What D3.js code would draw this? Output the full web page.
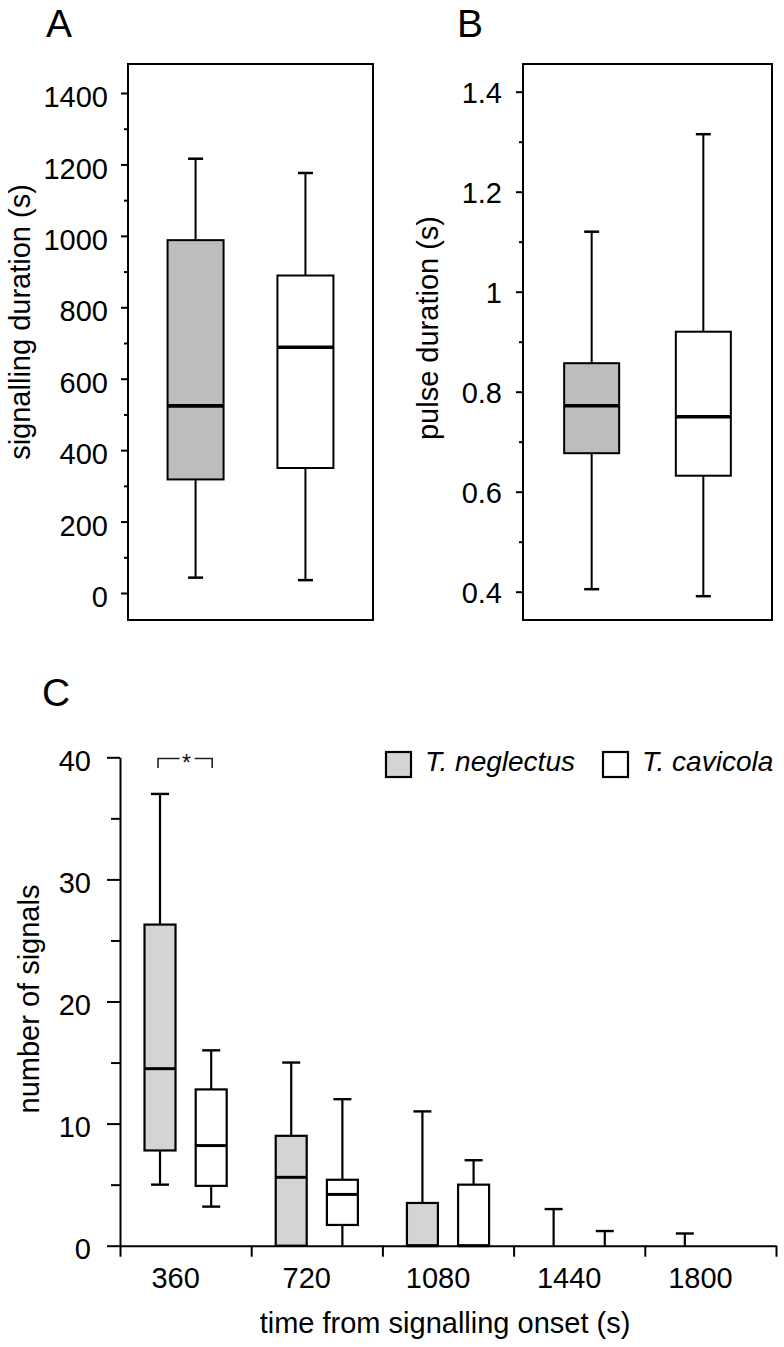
<!DOCTYPE html>
<html>
<head>
<meta charset="utf-8">
<script src="https://cdn.jsdelivr.net/npm/d3@7"></script>
<style>
  html, body { margin: 0; padding: 0; background: #fff; }
  svg { display: block; font-family: "Liberation Sans", Arial, Helvetica, sans-serif; }
</style>
</head>
<body>
<svg id="chart" width="784" height="1347"></svg>
<script>
// ---------------- DATA ----------------
const species = ["T. neglectus", "T. cavicola"];

// Panel A: signalling duration (s)
const durLower  = [43, 36];
const durQ1     = [318, 350];
const durMedian = [524, 688];
const durQ3     = [988, 889];
const durUpper  = [1216, 1176];
const durMajorTicks = [0, 200, 400, 600, 800, 1000, 1200, 1400];
const durMinorTicks = [100, 300, 500, 700, 900, 1100, 1300];

// Panel B: pulse duration (s)
const pulseLower  = [0.405, 0.391];
const pulseQ1     = [0.677, 0.632];
const pulseMedian = [0.772, 0.750];
const pulseQ3     = [0.857, 0.920];
const pulseUpper  = [1.120, 1.315];
const pulseMajorTicks = [0.4, 0.6, 0.8, 1.0, 1.2, 1.4];
const pulseMinorTicks = [0.5, 0.7, 0.9, 1.1, 1.3];
const pulseTickLabels = ["0.4", "0.6", "0.8", "1", "1.2", "1.4"];

// Panel C: number of signals per time bin
const timeBins = ["360", "720", "1080", "1440", "1800"];
const negLower  = [5.0, 0, 0, 0, 0];
const negQ1     = [7.8, 0, 0, 0, 0];
const negMedian = [14.5, 5.6, 0, 0, 0];
const negQ3     = [26.3, 9.0, 3.5, 0, 0];
const negUpper  = [37, 15, 11, 3, 1];
const cavLower  = [3.2, 0, 0, 0, 0];
const cavQ1     = [4.9, 1.7, 0, 0, 0];
const cavMedian = [8.2, 4.2, 0, 0, 0];
const cavQ3     = [12.8, 5.4, 5.0, 0, 0];
const cavUpper  = [16, 12, 7, 1.2, 0];
const countMajorTicks = [0, 10, 20, 30, 40];
const countMinorTicks = [5, 15, 25, 35];

// ---------------- HELPERS ----------------
const svg = d3.select("#chart");
const FS = 29;

function drawBox(g, cx, y, s, opt) {
  const hw = opt.boxW / 2, cw = opt.capW / 2;
  const sw = opt.sw;
  if (s.upper > s.q3) {
    g.append("line").attr("x1", cx).attr("x2", cx)
      .attr("y1", y(s.q3)).attr("y2", y(s.upper))
      .attr("stroke", "#000").attr("stroke-width", sw);
    g.append("line").attr("x1", cx - cw).attr("x2", cx + cw)
      .attr("y1", y(s.upper)).attr("y2", y(s.upper))
      .attr("stroke", "#000").attr("stroke-width", opt.capSw);
  }
  if (s.lower < s.q1) {
    g.append("line").attr("x1", cx).attr("x2", cx)
      .attr("y1", y(s.q1)).attr("y2", y(s.lower))
      .attr("stroke", "#000").attr("stroke-width", sw);
    if (s.lower > 0) {
      g.append("line").attr("x1", cx - cw).attr("x2", cx + cw)
        .attr("y1", y(s.lower)).attr("y2", y(s.lower))
        .attr("stroke", "#000").attr("stroke-width", opt.capSw);
    }
  }
  if (s.q3 > s.q1) {
    g.append("rect")
      .attr("x", cx - hw).attr("width", opt.boxW)
      .attr("y", y(s.q3)).attr("height", y(s.q1) - y(s.q3))
      .attr("fill", opt.fill).attr("stroke", "#000").attr("stroke-width", sw);
    g.append("line").attr("x1", cx - hw).attr("x2", cx + hw)
      .attr("y1", y(s.median)).attr("y2", y(s.median))
      .attr("stroke", "#000").attr("stroke-width", opt.medSw);
  }
}

function styleAxis(ax, sw) {
  ax.selectAll("line").attr("stroke", "#000").attr("stroke-width", sw);
  ax.selectAll("path.domain").attr("stroke", "#000").attr("stroke-width", sw);
  ax.selectAll("text").attr("fill", "#000").style("font-size", FS + "px")
    .style("font-family", '"Liberation Sans", Arial, sans-serif');
}

// ---------------- PANEL A ----------------
(function () {
  const fL = 128, fR = 373, fT = 64, fB = 620;
  const g = svg.append("g");
  const y = d3.scaleLinear().domain([0, 1400]).range([593, 93]);
  const x = d3.scalePoint().domain(species).range([fL, fR]).padding(0.615);

  const axMinor = g.append("g").attr("transform", `translate(${fL},0)`)
    .call(d3.axisLeft(y).tickValues(durMinorTicks).tickSize(4).tickFormat(""));
  axMinor.select(".domain").remove();
  styleAxis(axMinor, 2);
  const axMajor = g.append("g").attr("transform", `translate(${fL},0)`)
    .call(d3.axisLeft(y).tickValues(durMajorTicks).tickSize(7).tickPadding(13).tickFormat(d3.format("d")));
  axMajor.select(".domain").remove();
  styleAxis(axMajor, 2);
  axMajor.selectAll("text").attr("dy", "0.47em");

  g.append("rect").attr("x", fL).attr("y", fT).attr("width", fR - fL).attr("height", fB - fT)
    .attr("fill", "none").attr("stroke", "#000").attr("stroke-width", 2);

  const fills = ["#bdbdbd", "#ffffff"];
  species.forEach((sp, i) => {
    drawBox(g, x(sp), y, {lower: durLower[i], q1: durQ1[i], median: durMedian[i], q3: durQ3[i], upper: durUpper[i]},
      {boxW: 56, capW: 15, sw: 2, capSw: 2.5, medSw: 3.6, fill: fills[i]});
  });

  g.append("text").attr("transform", "translate(30,322) rotate(-90)")
    .attr("text-anchor", "middle").style("font-size", FS + "px").text("signalling duration (s)");
  g.append("text").attr("x", 46).attr("y", 37).style("font-size", "39px").text("A");
})();

// ---------------- PANEL B ----------------
(function () {
  const fL = 523, fR = 772, fT = 64, fB = 620;
  const g = svg.append("g");
  const y = d3.scaleLinear().domain([0.4, 1.4]).range([591.7, 91.7]);
  const x = d3.scalePoint().domain(species).range([fL, fR]).padding(0.615);

  const axMinor = g.append("g").attr("transform", `translate(${fL},0)`)
    .call(d3.axisLeft(y).tickValues(pulseMinorTicks).tickSize(4).tickFormat(""));
  axMinor.select(".domain").remove();
  styleAxis(axMinor, 2);
  const axMajor = g.append("g").attr("transform", `translate(${fL},0)`)
    .call(d3.axisLeft(y).tickValues(pulseMajorTicks).tickSize(7).tickPadding(14)
      .tickFormat((d, i) => pulseTickLabels[i]));
  axMajor.select(".domain").remove();
  styleAxis(axMajor, 2);
  axMajor.selectAll("text").attr("dy", "0.36em");

  g.append("rect").attr("x", fL).attr("y", fT).attr("width", fR - fL).attr("height", fB - fT)
    .attr("fill", "none").attr("stroke", "#000").attr("stroke-width", 2);

  const fills = ["#bdbdbd", "#ffffff"];
  species.forEach((sp, i) => {
    drawBox(g, x(sp), y, {lower: pulseLower[i], q1: pulseQ1[i], median: pulseMedian[i], q3: pulseQ3[i], upper: pulseUpper[i]},
      {boxW: 55, capW: 15, sw: 2, capSw: 2.5, medSw: 3.6, fill: fills[i]});
  });

  g.append("text").attr("transform", "translate(438,328) rotate(-90)")
    .attr("text-anchor", "middle").style("font-size", FS + "px").text("pulse duration (s)");
  g.append("text").attr("x", 457).attr("y", 37).style("font-size", "39px").text("B");
})();

// ---------------- PANEL C ----------------
(function () {
  const g = svg.append("g");
  const axL = 120, axR = 776;
  const y = d3.scaleLinear().domain([0, 40]).range([1245.7, 757.3]);
  const x = d3.scaleBand().domain(timeBins).range([axL, axR]);
  const off = x.bandwidth() * 0.195;

  const yMinor = g.append("g").attr("transform", `translate(${axL},0)`)
    .call(d3.axisLeft(y).tickValues(countMinorTicks).tickSize(9).tickFormat(""));
  yMinor.select(".domain").remove();
  styleAxis(yMinor, 2);
  const yMajor = g.append("g").attr("transform", `translate(${axL},0)`)
    .call(d3.axisLeft(y).tickValues(countMajorTicks).tickSize(13).tickSizeOuter(0).tickPadding(16));
  styleAxis(yMajor, 2);
  yMajor.selectAll("text").attr("dy", "0.45em");

  const bounds = timeBins.map(b => x(b)).concat([axR]);
  const xLin = d3.scaleLinear().domain([axL, axR]).range([axL, axR]);
  const xAx = g.append("g").attr("transform", `translate(0,${y(0)})`)
    .call(d3.axisBottom(xLin).tickValues(bounds).tickSize(11).tickSizeOuter(0).tickFormat(""));
  styleAxis(xAx, 2);
  const xLab = g.append("g").attr("transform", `translate(0,${y(0)})`)
    .call(d3.axisBottom(x).tickSize(0).tickPadding(22));
  xLab.select(".domain").remove();
  styleAxis(xLab, 2);
  xLab.selectAll("text").attr("dx", -10).attr("dy", "0.71em");

  timeBins.forEach((t, i) => {
    const c = x(t) + x.bandwidth() / 2;
    drawBox(g, c - off, y, {lower: negLower[i], q1: negQ1[i], median: negMedian[i], q3: negQ3[i], upper: negUpper[i]},
      {boxW: 31, capW: 18, sw: 2.2, capSw: 2.4, medSw: 3, fill: "#d4d4d4"});
    drawBox(g, c + off, y, {lower: cavLower[i], q1: cavQ1[i], median: cavMedian[i], q3: cavQ3[i], upper: cavUpper[i]},
      {boxW: 31, capW: 18, sw: 2.2, capSw: 2.4, medSw: 3, fill: "#ffffff"});
  });

  // significance bracket for first bin
  const c0 = x(timeBins[0]) + x.bandwidth() / 2;
  const bx1 = c0 - off - 2, bx2 = c0 + off + 1, by = 758.5, bd = 9.5, sc = c0 + 1;
  g.append("path")
    .attr("d", `M${bx1},${by + bd}V${by}H${sc - 7} M${sc + 8},${by}H${bx2}V${by + bd}`)
    .attr("fill", "none").attr("stroke", "#222").attr("stroke-width", 1.6);
  g.append("text").attr("x", sc).attr("y", by + 12).attr("text-anchor", "middle")
    .style("font-size", "23px").attr("fill", "#111").text("*");

  // legend
  const legX = [386, 603];
  const legFill = ["#d4d4d4", "#ffffff"];
  species.forEach((sp, i) => {
    g.append("rect").attr("x", legX[i]).attr("y", 752).attr("width", 25).attr("height", 25)
      .attr("fill", legFill[i]).attr("stroke", "#000").attr("stroke-width", 2.2);
    g.append("text").attr("x", legX[i] + 39).attr("y", 771)
      .style("font-size", "28px").style("font-style", "italic").text(sp);
  });

  g.append("text").attr("transform", "translate(39,999) rotate(-90)")
    .attr("text-anchor", "middle").style("font-size", FS + "px").text("number of signals");
  g.append("text").attr("x", 445).attr("y", 1333).attr("text-anchor", "middle")
    .style("font-size", FS + "px").text("time from signalling onset (s)");
  g.append("text").attr("x", 42).attr("y", 706).style("font-size", "39px").text("C");
})();
</script>
</body>
</html>
